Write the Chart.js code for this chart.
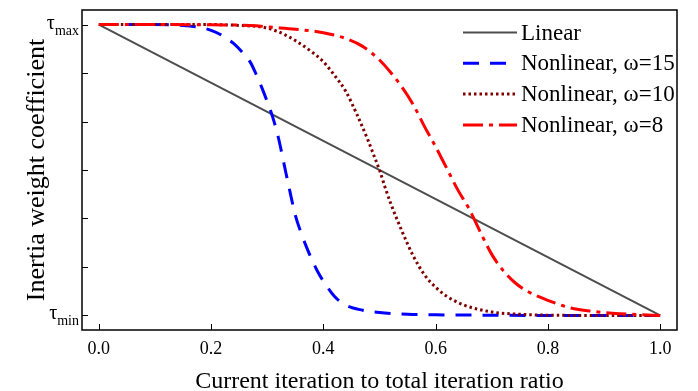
<!DOCTYPE html>
<html>
<head>
<meta charset="utf-8">
<script src="https://cdn.jsdelivr.net/npm/chart.js@4.4.0/dist/chart.umd.min.js"></script>
<style>
  html, body { margin: 0; padding: 0; background: #fff; }
</style>
</head>
<body>
<canvas id="myChart" width="698" height="391"></canvas>
<script>
// series names (legend order)
var seriesNames = ['Linear', 'Nonlinear, \u03c9=15', 'Nonlinear, \u03c9=10', 'Nonlinear, \u03c9=8']

// values, y: 0 = tau_min, 1 = tau_max
var linearX = [0, 1]
var linearY = [1, 0]

var w15X = [0, 0.05, 0.10, 0.15, 0.18, 0.20, 0.22, 0.24, 0.26, 0.27, 0.28, 0.29, 0.30, 0.31, 0.32, 0.33,
            0.34, 0.35, 0.36, 0.37, 0.38, 0.39, 0.40, 0.42, 0.44, 0.47, 0.50, 0.55, 0.60, 0.70, 0.80, 0.90, 1.0]
var w15Y = [1, 1, 1, 0.997, 0.99, 0.98, 0.962, 0.935, 0.895, 0.87, 0.83, 0.785, 0.735, 0.68, 0.61, 0.52,
            0.43, 0.345, 0.285, 0.235, 0.19, 0.15, 0.118, 0.065, 0.035, 0.018, 0.01, 0.004, 0.002, 0.001, 0, 0, 0]

var w10X = [0, 0.10, 0.20, 0.25, 0.295, 0.32, 0.35, 0.38, 0.40, 0.42, 0.44, 0.46, 0.48, 0.49, 0.50, 0.51,
            0.52, 0.54, 0.56, 0.58, 0.60, 0.62, 0.65, 0.70, 0.75, 0.80, 0.90, 1.0]
var w10Y = [1, 1, 1, 0.997, 0.99, 0.975, 0.945, 0.905, 0.872, 0.825, 0.77, 0.69, 0.60, 0.55, 0.50, 0.44,
            0.385, 0.29, 0.205, 0.14, 0.097, 0.066, 0.036, 0.012, 0.004, 0.001, 0, 0]

var w8X = [0, 0.10, 0.20, 0.28, 0.30, 0.35, 0.40, 0.44, 0.47, 0.50, 0.52, 0.54, 0.56, 0.58, 0.60, 0.62,
           0.64, 0.66, 0.68, 0.70, 0.72, 0.74, 0.76, 0.80, 0.84, 0.88, 0.92, 0.96, 1.0]
var w8Y = [1, 1, 0.999, 0.996, 0.992, 0.984, 0.972, 0.952, 0.925, 0.878, 0.835, 0.785, 0.725, 0.65, 0.58, 0.505,
           0.43, 0.365, 0.285, 0.21, 0.155, 0.115, 0.087, 0.052, 0.026, 0.014, 0.007, 0.003, 0]

var xTicks = [0, 0.2, 0.4, 0.6, 0.8, 1.0]
var yTicks = [0, 1/6, 2/6, 3/6, 4/6, 5/6, 1]
var yTickSubs = {0: 'min', 1: 'max'}

var colors = ['#4d4d4d', '#0000ff', '#800000', '#ff0000']
var dashes = [[], [16, 11], [2.5, 3], [20, 6, 4, 6]]
var widths = [2, 3, 3, 3]

function pts(xs, ys) {
    return xs.map(function(x, i) { return {x: x, y: ys[i]} })
}

var serif = "'Liberation Serif', 'Times New Roman', serif"

// frame, inward ticks, tau labels and the legend
var decorPlugin = {
    id: 'decor',
    afterDraw: function(chart) {
        var ctx = chart.ctx
        var a = chart.chartArea
        var xs = chart.scales.x, ys = chart.scales.y
        ctx.save()
        ctx.strokeStyle = '#000'
        ctx.lineWidth = 1
        ctx.beginPath()
        xTicks.forEach(function(t) {
            var px = Math.round(xs.getPixelForValue(t)) + 0.5
            ctx.moveTo(px, a.bottom)
            ctx.lineTo(px, a.bottom - 6)
        })
        yTicks.forEach(function(t) {
            var py = Math.round(ys.getPixelForValue(t)) + 0.5
            ctx.moveTo(a.left, py)
            ctx.lineTo(a.left + 6, py)
        })
        ctx.stroke()
        ctx.lineWidth = 1.5
        ctx.strokeRect(a.left, a.top, a.right - a.left, a.bottom - a.top)

        // tau_max / tau_min
        ctx.fillStyle = '#000'
        ctx.textBaseline = 'alphabetic'
        ctx.textAlign = 'right'
        Object.keys(yTickSubs).forEach(function(k) {
            var py = ys.getPixelForValue(Number(k))
            var sub = yTickSubs[k]
            ctx.font = '14px ' + serif
            var subW = ctx.measureText(sub).width
            ctx.fillText(sub, 79, py + 10)
            ctx.font = '20px ' + serif
            ctx.fillText('\u03c4', 79 - subW, py + 4)
        })

        // legend
        var lx = 463, ly = 32.5, step = 30.8
        chart.data.datasets.forEach(function(ds, i) {
            var y = ly + i * step
            ctx.beginPath()
            ctx.setLineDash(dashes[i])
            ctx.strokeStyle = colors[i]
            ctx.lineWidth = widths[i]
            ctx.moveTo(lx, y)
            ctx.lineTo(lx + 54, y)
            ctx.stroke()
            ctx.setLineDash([])
            ctx.font = '23px ' + serif
            ctx.textAlign = 'left'
            ctx.textBaseline = 'middle'
            ctx.fillStyle = '#000'
            ctx.fillText(seriesNames[i], lx + 58, y + 1)
        })
        ctx.restore()
    }
}

var datasets = [pts(linearX, linearY), pts(w15X, w15Y), pts(w10X, w10Y), pts(w8X, w8Y)].map(function(d, i) {
    return {
        label: seriesNames[i],
        data: d,
        borderColor: colors[i],
        borderWidth: widths[i],
        borderDash: dashes[i],
        pointRadius: 0,
        fill: false,
        cubicInterpolationMode: 'monotone',
        order: 3 - i
    }
})

var ctx = document.getElementById('myChart')
var myChart = new Chart(ctx, {
    type: 'line',
    data: { datasets: datasets },
    options: {
        responsive: false,
        animation: false,
        devicePixelRatio: 1,
        layout: { padding: { left: 0, top: 10, right: 21, bottom: 0 } },
        plugins: { legend: { display: false }, tooltip: { enabled: false } },
        scales: {
            x: {
                type: 'linear',
                min: -0.03,
                max: 1.03,
                afterBuildTicks: function(s) { s.ticks = xTicks.map(function(v) { return {value: v} }) },
                afterFit: function(s) { s.height = 61 },
                grid: { display: false, drawTicks: false },
                border: { display: false },
                ticks: {
                    color: '#000',
                    padding: 8,
                    maxRotation: 0,
                    font: { family: serif, size: 18 },
                    callback: function(v) { return Number(v).toFixed(1) }
                },
                title: {
                    display: true,
                    text: 'Current iteration to total iteration ratio',
                    color: '#000',
                    font: { family: serif, size: 24, lineHeight: 0.8 },
                    padding: { top: 0, bottom: 0 }
                }
            },
            y: {
                type: 'linear',
                min: -0.05,
                max: 1.05,
                afterBuildTicks: function(s) { s.ticks = yTicks.map(function(v) { return {value: v} }) },
                afterFit: function(s) { s.width = 82 },
                grid: { display: false, drawTicks: false },
                border: { display: false },
                ticks: { display: false },
                title: {
                    display: true,
                    text: 'Inertia weight coefficient',
                    color: '#000',
                    font: { family: serif, size: 26 },
                    padding: { top: 22, bottom: 0 }
                }
            }
        }
    },
    plugins: [decorPlugin]
})
</script>
</body>
</html>
